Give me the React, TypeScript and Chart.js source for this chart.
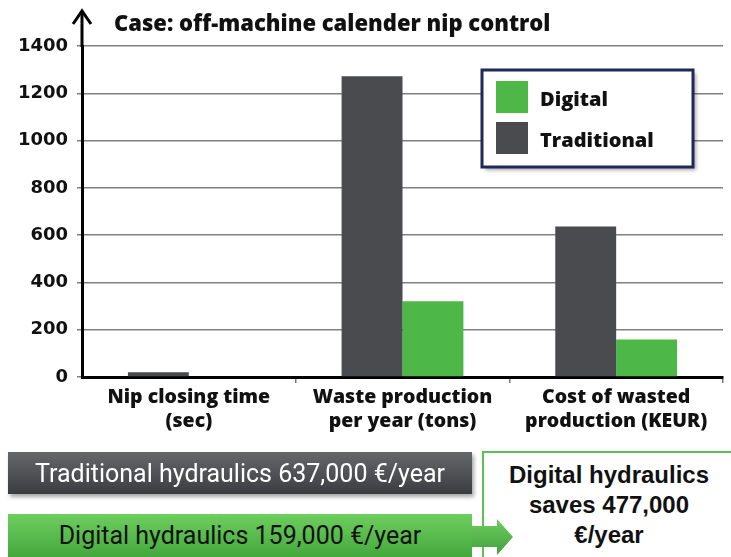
import React, { useEffect, useRef } from "react";
import { Chart, registerables } from "chart.js";

Chart.register(...registerables);

const titleText = "Case: off-machine calender nip control";
const categories = [
  ["Nip closing time", "(sec)"],
  ["Waste production", "per year (tons)"],
  ["Cost of wasted", "production (KEUR)"],
];
const traditionalValues = [20, 1272, 637];
const digitalValues = [0, 320, 159];
const seriesLabels = ["Traditional", "Digital"];
const yMin = 0;
const yMax = 1400;
const yStep = 200;
const traditionalBox = "Traditional hydraulics 637,000 €/year";
const digitalBox = "Digital hydraulics 159,000 €/year";
const savingsLines = ["Digital hydraulics", "saves 477,000", "€/year"];

const GRAY = "#4a4b4f";
const GREEN = "#4db748";

const overlayPlugin = {
  id: "overlay",
  afterDraw(chart: any) {
    const ctx = chart.ctx as CanvasRenderingContext2D;
    const { left, top } = chart.chartArea;
    ctx.save();
    // y axis extension with arrow
    ctx.strokeStyle = "#000";
    ctx.lineWidth = 3;
    ctx.beginPath();
    ctx.moveTo(left, top + 1);
    ctx.lineTo(left, 11);
    ctx.stroke();
    ctx.beginPath();
    ctx.moveTo(left - 9, 24);
    ctx.lineTo(left, 11);
    ctx.lineTo(left + 9, 24);
    ctx.stroke();

    // title
    ctx.fillStyle = "#111";
    ctx.font = '800 22px "Open Sans"';
    ctx.textBaseline = "alphabetic";
    ctx.textAlign = "left";
    ctx.fillText(titleText, 114, 31);

    // legend box
    const bx = 482, by = 70, bw = 211, bh = 97;
    ctx.save();
    ctx.shadowColor = "rgba(0,0,0,0.35)";
    ctx.shadowOffsetX = 3;
    ctx.shadowOffsetY = 3;
    ctx.shadowBlur = 4;
    ctx.fillStyle = "#fff";
    ctx.fillRect(bx, by, bw, bh);
    ctx.restore();
    ctx.strokeStyle = "#1f2858";
    ctx.lineWidth = 3;
    ctx.strokeRect(bx, by, bw, bh);

    const ds = chart.data.datasets;
    const entries = [ds[1], ds[0]];
    entries.forEach((d: any, i: number) => {
      const sy = 81 + i * 41;
      ctx.fillStyle = d.backgroundColor;
      ctx.fillRect(496, sy, 32, 32);
      ctx.fillStyle = "#111";
      ctx.font = '800 20px "Open Sans"';
      ctx.fillText(d.label, 540, sy + 25);
    });
    ctx.restore();
  },
};

export default function App() {
  const canvasRef = useRef<HTMLCanvasElement | null>(null);

  useEffect(() => {
    if (!canvasRef.current) return;
    const chart = new Chart(canvasRef.current, {
      type: "bar",
      data: {
        labels: categories,
        datasets: [
          {
            label: seriesLabels[0],
            data: traditionalValues,
            backgroundColor: GRAY,
            categoryPercentage: 0.57,
            barPercentage: 1,
          },
          {
            label: seriesLabels[1],
            data: digitalValues,
            backgroundColor: GREEN,
            categoryPercentage: 0.57,
            barPercentage: 1,
          },
        ],
      },
      options: {
        responsive: false,
        animation: false,
        layout: { padding: { top: 46, right: 8, left: 0, bottom: 0 } },
        plugins: {
          legend: { display: false },
          tooltip: { enabled: false },
          title: { display: false },
        },
        scales: {
          x: {
            grid: {
              offset: true,
              drawOnChartArea: false,
              drawTicks: true,
              tickLength: 6,
              lineWidth: 1.5,
              color: (c: any) => (c.index === 0 ? "rgba(0,0,0,0)" : "#777"),
            },
            border: { display: true, color: "#000", width: 3 },
            ticks: {
              font: { family: "Open Sans", weight: "800", size: 19.5 },
              color: "#111",
              padding: 3,
              maxRotation: 0,
              autoSkip: false,
            },
            afterFit: (s: any) => {
              s.height = 180;
            },
          },
          y: {
            min: yMin,
            max: yMax,
            ticks: {
              stepSize: yStep,
              font: { family: "DejaVu Sans", weight: "bold", size: 18 },
              color: "#111",
              padding: 9,
              callback: (v: any) => String(v),
            },
            grid: { color: "#808080", lineWidth: 1.5, tickLength: 5, drawTicks: true },
            border: { display: true, color: "#000", width: 3 },
            afterFit: (s: any) => {
              s.width = 82;
            },
          },
        },
      } as any,
      plugins: [overlayPlugin],
    });
    return () => chart.destroy();
  }, []);

  const boxText: React.CSSProperties = {
    position: "absolute",
    display: "flex",
    alignItems: "center",
    justifyContent: "center",
    fontFamily: "Roboto, sans-serif",
    fontWeight: 400,
    fontSize: 25,
    whiteSpace: "nowrap",
  };

  return (
    <div
      style={{
        position: "absolute",
        left: 0,
        top: 0,
        width: 731,
        height: 557,
        overflow: "hidden",
        background: "#fff",
      }}
    >
      <canvas ref={canvasRef} width={731} height={557} style={{ display: "block" }} />
      <div
        style={{
          ...boxText,
          left: 8,
          top: 452,
          width: 464,
          height: 42,
          color: "#fff",
          background: "linear-gradient(#66676b, #3b3c40)",
          boxShadow: "2px 3px 4px rgba(0,0,0,0.35)",
        }}
      >
        {traditionalBox}
      </div>
      <div
        style={{
          ...boxText,
          left: 8,
          top: 514,
          width: 464,
          height: 43,
          color: "#111",
          background: "linear-gradient(#6fcd5f, #43a93d)",
        }}
      >
        {digitalBox}
      </div>
      <div
        style={{
          position: "absolute",
          left: 482,
          top: 451,
          width: 254,
          height: 120,
          boxSizing: "border-box",
          border: "2.5px solid #5dbf57",
          background: "#fff",
          paddingTop: 7,
          textAlign: "center",
          fontFamily: '"Liberation Sans", Arial, sans-serif',
          fontWeight: "bold",
          fontSize: 24,
          lineHeight: "30px",
          color: "#111",
        }}
      >
        {savingsLines.map((l, i) => (
          <div key={i}>{l}</div>
        ))}
      </div>
      <div
        style={{
          position: "absolute",
          left: 472,
          top: 519,
          width: 41,
          height: 37,
          background: "linear-gradient(#6fcd5f, #3f9f3a)",
          clipPath: "polygon(0 7px, 25px 7px, 25px 0, 41px 18px, 25px 36px, 25px 28px, 0 28px)",
        }}
      />
    </div>
  );
}
